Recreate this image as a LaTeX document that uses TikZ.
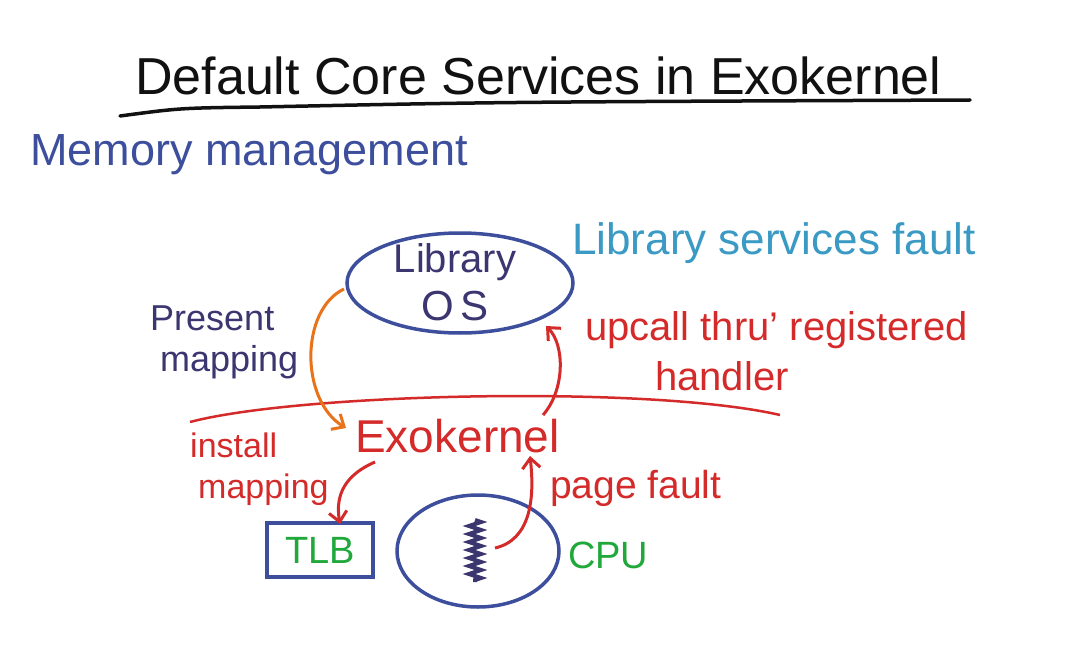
\documentclass[tikz,border=0pt]{standalone}
\usepackage{fontspec}
\setmainfont{Liberation Sans}
\usetikzlibrary{arrows.meta,decorations.pathmorphing,shapes.geometric,calc}
\definecolor{inkblack}{HTML}{111111}
\definecolor{inkblue}{HTML}{3D4F9C}
\definecolor{inkpurple}{HTML}{3B3570}
\definecolor{inklight}{HTML}{3A9AC4}
\definecolor{inkred}{HTML}{D42A2A}
\definecolor{inkorange}{HTML}{E8731A}
\definecolor{inkgreen}{HTML}{20A83A}
\tikzset{
  txt/.style={inner sep=0pt, anchor=west},
  shapeline/.style={draw=inkblue, line width=3.5pt},
  redarrow/.style={draw=inkred, line width=3pt, -{Straight Barb[length=10pt,width=18pt,line width=3pt]}},
  orangearrow/.style={draw=inkorange, line width=3pt, -{Straight Barb[length=10pt,width=18pt,line width=3pt]}},
}
\newcommand{\fs}[1]{\fontsize{#1}{#1}\selectfont}
\begin{document}
\begin{tikzpicture}[x=1pt,y=-1pt]
\useasboundingbox[fill=white] (0,0) rectangle (1067,647);
% title
\node[txt, text=inkblack] (title) at (135,76) {\fs{52}Default Core Services in Exokernel};
\coordinate (ul1) at (120,116);
\coordinate (ul2) at (260,107);
\coordinate (ul3) at (970,100);
\draw[inkblack, line width=3.5pt, line cap=round] (ul1) .. controls (180,108) .. (ul2) .. controls (500,102) .. (ul3);
% memory management
\node[txt, text=inkblue] (mem) at (30,155) {\fs{45}Memory management};
% library OS
\node[ellipse, shapeline, minimum width=226pt, minimum height=100pt] (lib) at (460,283) {};
\node[inner sep=0pt, text=inkpurple] (libt) at (455,262) {\fs{40}Library};
\node[inner sep=0pt, text=inkpurple] (ost) at (455,306) {\fs{42}O\,S};
\node[txt, text=inklight] (lsf) at (572,243) {\fs{44}Library services fault};
% upcall
\node[txt, text=inkred] (up) at (585,330) {\fs{40}upcall thru' registered};
\node[txt, text=inkred] (hand) at (655,376) {\fs{40}handler};
% divider
\coordinate (d1) at (190,422);
\coordinate (d2) at (780,415);
\draw[inkred, line width=2.5pt] (d1) .. controls (300,393) and (650,385) .. (d2);
% present mapping
\node[txt, text=inkpurple] (pres) at (150,318) {\fs{36}Present};
\node[txt, text=inkpurple] (pmap) at (160,362) {\fs{36}mapping};
% exokernel
\node[txt, text=inkred] (exo) at (355,436) {\fs{46}Exokernel};
% install mapping
\node[txt, text=inkred] (inst) at (190,445) {\fs{34}install};
\node[txt, text=inkred] (imap) at (198,490) {\fs{34}mapping};
% TLB
\node[draw=inkblue, line width=3.5pt, minimum width=106pt, minimum height=54pt, text=inkgreen] (tlb) at (320,550) {\fs{38}TLB};
% CPU
\node[ellipse, shapeline, minimum width=162pt, minimum height=112pt] (cpu) at (478,551) {};
\node[txt, text=inkgreen] (cput) at (568,555) {\fs{38}CPU};
\coordinate (sqtop) at (475,520);
\coordinate (sqbot) at (475,582);
\draw[inkpurple, line width=4pt, decorate, decoration={zigzag, amplitude=6pt, segment length=8pt}] (sqtop) -- (sqbot);
% page fault
\node[txt, text=inkred] (pf) at (550,488) {\fs{39}page fault};
% arrows
\coordinate (oa1) at (344,289);
\coordinate (oa2) at (346,428);
\draw[orangearrow] (oa1) .. controls (300,310) and (300,400) .. (oa2);
\coordinate (ua1) at (543,415);
\coordinate (ua2) at (546,326);
\draw[redarrow] (ua1) .. controls (565,390) and (565,345) .. (ua2);
\coordinate (ia1) at (375,462);
\coordinate (ia2) at (340,524);
\draw[redarrow] (ia1) .. controls (345,475) and (335,495) .. (ia2);
\coordinate (pa1) at (495,548);
\coordinate (pa2) at (530,456);
\draw[redarrow] (pa1) .. controls (530,540) and (535,500) .. (pa2);
\end{tikzpicture}
\end{document}
